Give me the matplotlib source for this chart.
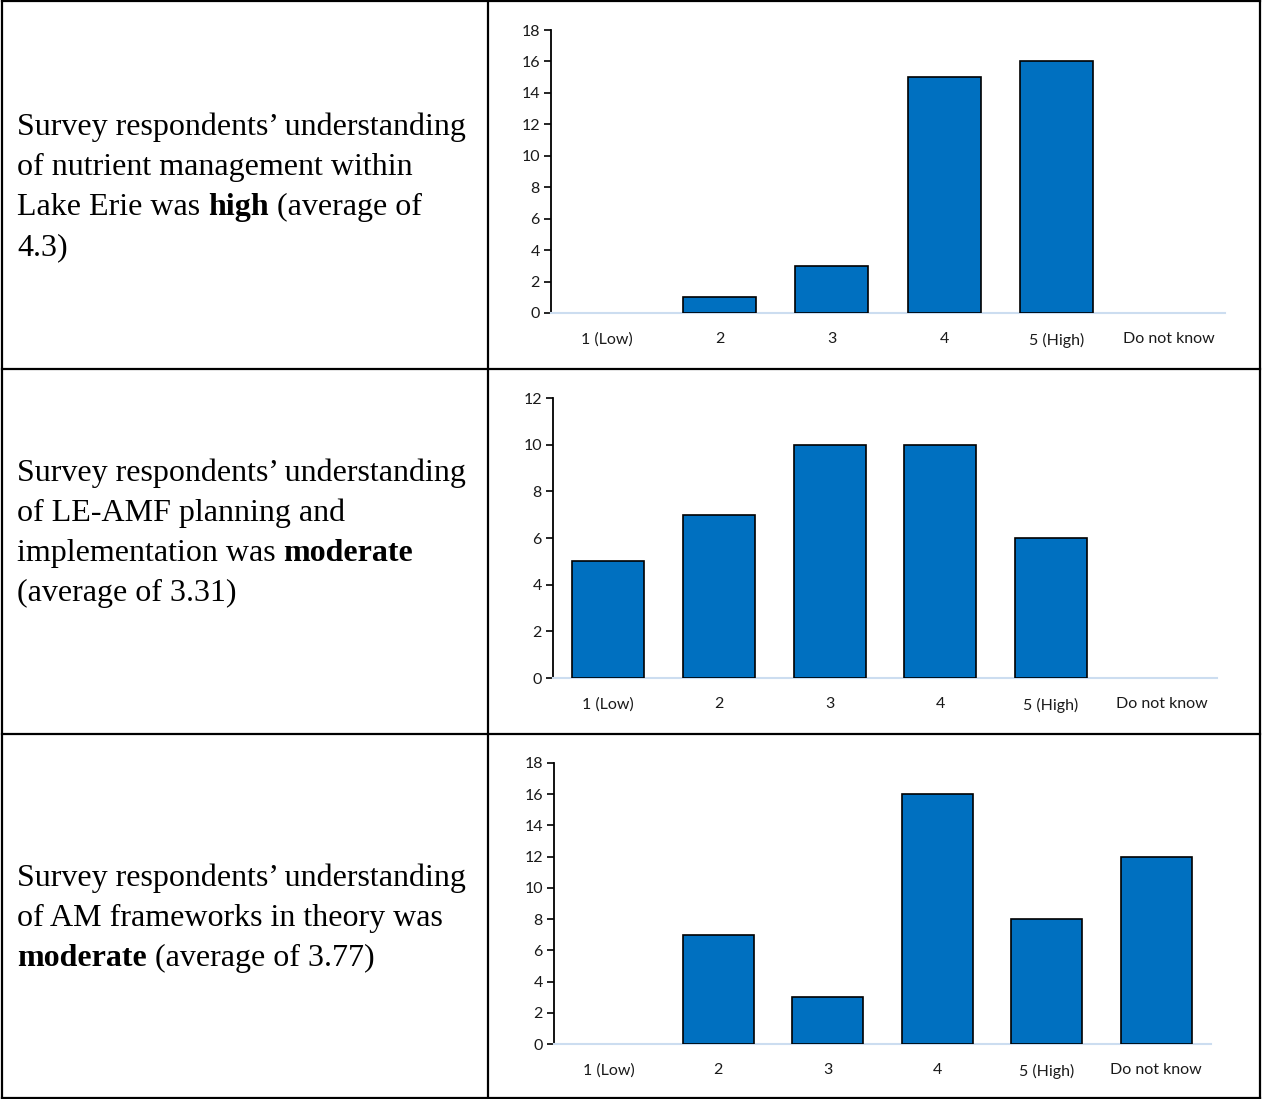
import matplotlib.pyplot as plt
from matplotlib.lines import Line2D

categories = ['1 (Low)', '2', '3', '4', '5 (High)', 'Do not know']

nutrient_counts = [0, 1, 3, 15, 16, 0]
leamf_counts = [5, 7, 10, 10, 6, 0]
am_theory_counts = [0, 7, 3, 16, 8, 12]

# each caption line is a list of (text, bold) pieces
nutrient_text = [
    [('Survey respondents\u2019 understanding', False)],
    [('of nutrient management within', False)],
    [('Lake Erie was ', False), ('high', True), (' (average of', False)],
    [('4.3)', False)],
]
leamf_text = [
    [('Survey respondents\u2019 understanding', False)],
    [('of LE-AMF planning and', False)],
    [('implementation was ', False), ('moderate', True)],
    [('(average of 3.31)', False)],
]
am_theory_text = [
    [('Survey respondents\u2019 understanding', False)],
    [('of AM frameworks in theory was', False)],
    [('moderate', True), (' (average of 3.77)', False)],
]

W, H = 1262, 1099
fig = plt.figure(figsize=(W / 100, H / 100), dpi=100)
renderer = fig.canvas.get_renderer()

# table grid
def hline(y, x0=2, x1=1260):
    fig.add_artist(Line2D([x0 / W, x1 / W], [1 - y / H, 1 - y / H], color='black', lw=1.6))

def vline(x, y0=1, y1=1098):
    fig.add_artist(Line2D([x / W, x / W], [1 - y0 / H, 1 - y1 / H], color='black', lw=1.6))

for y in [1, 369, 734, 1098]:
    hline(y)
for x in [2, 488, 1260]:
    vline(x)


def caption(lines, x0, y_first, step=40.3):
    for i, pieces in enumerate(lines):
        x = x0
        y = 1 - (y_first + i * step) / H
        for txt, bold in pieces:
            t = fig.text(x / W, y, txt, family='Liberation Serif', fontsize=23,
                         fontweight='bold' if bold else 'normal', va='center', ha='left')
            x += t.get_window_extent(renderer).width


def bar_panel(counts, box, ymax):
    left, right, top, bottom = box
    ax = fig.add_axes([left / W, 1 - bottom / H, (right - left) / W, (bottom - top) / H])
    edges = ['black' if c > 0 else 'none' for c in counts]
    ax.bar(range(len(categories)), counts, width=0.65, color='#0070C0',
           edgecolor=edges, linewidth=1.2, zorder=3)
    ax.set_xlim(-0.5, len(categories) - 0.5)
    ax.set_ylim(0, ymax)
    ax.set_yticks(range(0, ymax + 1, 2))
    ax.set_xticks(range(len(categories)))
    ax.set_xticklabels(categories)
    for s in ['top', 'right']:
        ax.spines[s].set_visible(False)
    ax.spines['left'].set_linewidth(1.3)
    ax.spines['bottom'].set_color('#CCDDF0')
    ax.spines['bottom'].set_linewidth(1.5)
    ax.tick_params(axis='x', length=0, pad=14, labelsize=11.5)
    ax.tick_params(axis='y', length=5, width=1.2, pad=3, labelsize=11.5)
    for lab in ax.get_xticklabels() + ax.get_yticklabels():
        lab.set_family('Lato')
        lab.set_color('#1a1a1a')
    return ax


caption(nutrient_text, 17, 127)
caption(leamf_text, 17, 473)
caption(am_theory_text, 17, 878)

bar_panel(nutrient_counts, (551, 1225, 30, 313), 18)
bar_panel(leamf_counts, (553, 1217, 398, 678), 12)
bar_panel(am_theory_counts, (554, 1211, 763, 1044), 18)

fig.savefig('out.png', dpi=100)
